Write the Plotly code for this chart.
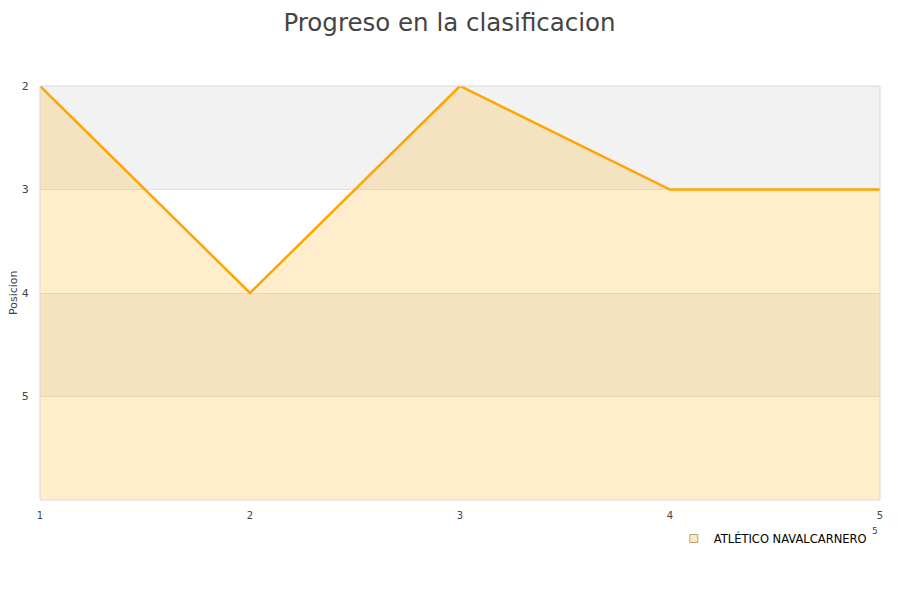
import plotly.graph_objects as go

jornadas = [1, 2, 3, 4, 5]
posiciones = [2, 4, 2, 3, 3]
team = "ATLÉTICO NAVALCARNERO"
y_ticks = [2, 3, 4, 5]
y_min, y_max = 2, 6

fig = go.Figure()

# baseline for fill
fig.add_trace(go.Scatter(x=jornadas, y=[y_max] * len(jornadas), mode="lines",
                         line=dict(width=0, color="rgba(0,0,0,0)"),
                         showlegend=False, hoverinfo="skip"))
fig.add_trace(go.Scatter(x=jornadas, y=posiciones, mode="lines", fill="tonexty",
                         fillcolor="rgba(255,165,0,0.2)",
                         line=dict(color="#FFA500", width=2.5),
                         showlegend=False, name=team))
# legend entry
fig.add_trace(go.Scatter(x=[None], y=[None], mode="markers", name=team,
                         marker=dict(symbol="square", size=8, color="#fbe8c6",
                                     line=dict(color="#b8a27a", width=1))))

shapes = []
for i, lo in enumerate(range(y_min, y_max)):
    shapes.append(dict(type="rect", xref="paper", yref="y", x0=0, x1=1, y0=lo, y1=lo + 1,
                       fillcolor="#f2f2f2" if i % 2 == 0 else "#ffffff",
                       line=dict(width=0), layer="below"))
shapes.append(dict(type="rect", xref="paper", yref="paper", x0=0, x1=1, y0=0, y1=1,
                   line=dict(color="#d8d8d8", width=1), fillcolor="rgba(0,0,0,0)", layer="above"))

L, R, T, B = 32, 28, 78, 108
PW, PH = 900 - L - R, 600 - T - B

fig.update_layout(
    width=900, height=600,
    margin=dict(l=L, r=R, t=T, b=B, autoexpand=False),
    paper_bgcolor="white", plot_bgcolor="white",
    font=dict(family="DejaVu Sans, Verdana, sans-serif", color="#444", size=11),
    title=dict(text="Progreso en la clasificacion", x=0.4906, xanchor="center",
               yref="container", y=1, yanchor="top", pad=dict(t=6),
               font=dict(size=24.5, color="#444")),
    shapes=shapes,
    showlegend=True,
    legend=dict(x=0.7545, y=-0.058, xanchor="left", yanchor="top", orientation="h",
                font=dict(size=11.5, color="#000"), bgcolor="rgba(0,0,0,0)"),
    xaxis=dict(range=[1, 5], tickvals=jornadas, showgrid=False, zeroline=False,
               showline=False, ticks="outside", ticklen=6, tickcolor="rgba(0,0,0,0)",
               tickfont=dict(size=10, color="#444"), automargin=False),
    yaxis=dict(range=[y_max, y_min], tickvals=y_ticks, showgrid=True,
               gridcolor="#e2e2e2", zeroline=False, showline=False,
               ticks="outside", ticklen=8, tickcolor="rgba(0,0,0,0)",
               tickfont=dict(size=11, color="#444"), automargin=False),
    annotations=[
        dict(text="Posicion", xref="paper", yref="paper", x=(5 - L) / PW, y=0.5,
             xanchor="center", yanchor="middle", textangle=-90, showarrow=False,
             font=dict(size=11, color="#444")),
        dict(text="5", xref="paper", yref="paper", x=(867 - L) / PW,
             y=(PH - 523 + T) / PH, xanchor="center", yanchor="middle",
             showarrow=False, font=dict(size=9, color="#444")),
    ],
)

fig.write_html("out.html")
